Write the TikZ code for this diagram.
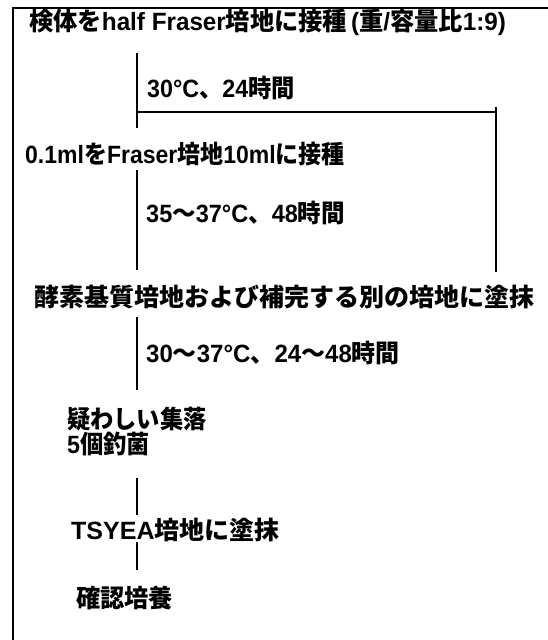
\documentclass[tikz,border=0pt]{standalone}
\usepackage{graphicx}
\usepackage{fontspec}
\setmainfont{Liberation Sans}
\newfontfamily\jp{Noto Sans CJK JP Bold}
\newcommand\J[1]{{\jp #1}}
\newcommand\sx[2]{\scalebox{#1}[1]{#2}}
\begin{document}
\begin{tikzpicture}[x=1pt,y=-1pt,
  txt/.style={anchor=west,inner sep=0pt,font=\bfseries\fontsize{25}{23.5}\selectfont},
  ln/.style={line width=1.6pt},
  frame/.style={line width=2pt}]
\useasboundingbox (0,0) rectangle (548,640);
% frame (only top and left edges visible)
\coordinate (ftr) at (548,8);
\coordinate (ftl) at (12.5,8);
\coordinate (fbl) at (12.5,640);
\draw[frame] (ftr) -- (ftl) -- (fbl);
% texts
\node[txt] (t1) at (29,22) {\sx{0.97}{\J{検体を}half Fraser\J{培地に接種}\hspace{4pt}(\J{重}/\J{容量比}1:9)}};
\node[txt] (l1) at (147,88) {\sx{0.93}{30°C\J{、}24\J{時間}}};
\node[txt] (t2) at (25,154) {\sx{0.92}{0.1ml\J{を}Fraser\J{培地}10ml\J{に接種}}};
\node[txt] (l2) at (146,213) {\sx{0.94}{35\J{〜}37°C\J{、}48\J{時間}}};
\node[txt] (t3) at (34,297) {\J{酵素基質培地および補完する別の培地に塗抹}};
\node[txt] (l3) at (146,353) {\sx{0.96}{30\J{〜}37°C\J{、}24\J{〜}48\J{時間}}};
\node[txt,align=left] (t4) at (67,431.5) {\sx{0.93}{\J{疑わしい集落}}\\\sx{0.93}{5\J{個釣菌}}};
\node[txt] (t5) at (71,530) {TSYEA\J{培地に塗抹}};
\node[txt] (t6) at (76,598) {\sx{0.97}{\J{確認培養}}};
% connectors
\coordinate (a1) at (137,53);
\coordinate (j1) at (137,112);
\coordinate (a2) at (137,128);
\coordinate (r0) at (496,107);
\coordinate (r1) at (496,112);
\coordinate (r2) at (496,272);
\draw[ln] (a1) -- (j1) -- (a2);
\draw[ln] (j1) -- (r1);
\draw[ln] (r0) -- (r2);
\coordinate (b1) at (137,170);
\coordinate (b2) at (137,270);
\draw[ln] (b1) -- (b2);
\coordinate (c1) at (137,317);
\coordinate (c2) at (137,390);
\draw[ln] (c1) -- (c2);
\coordinate (d1) at (137,478);
\coordinate (d2) at (137,515);
\draw[ln] (d1) -- (d2);
\coordinate (e1) at (137,542);
\coordinate (e2) at (137,570);
\draw[ln] (e1) -- (e2);
\end{tikzpicture}
\end{document}
